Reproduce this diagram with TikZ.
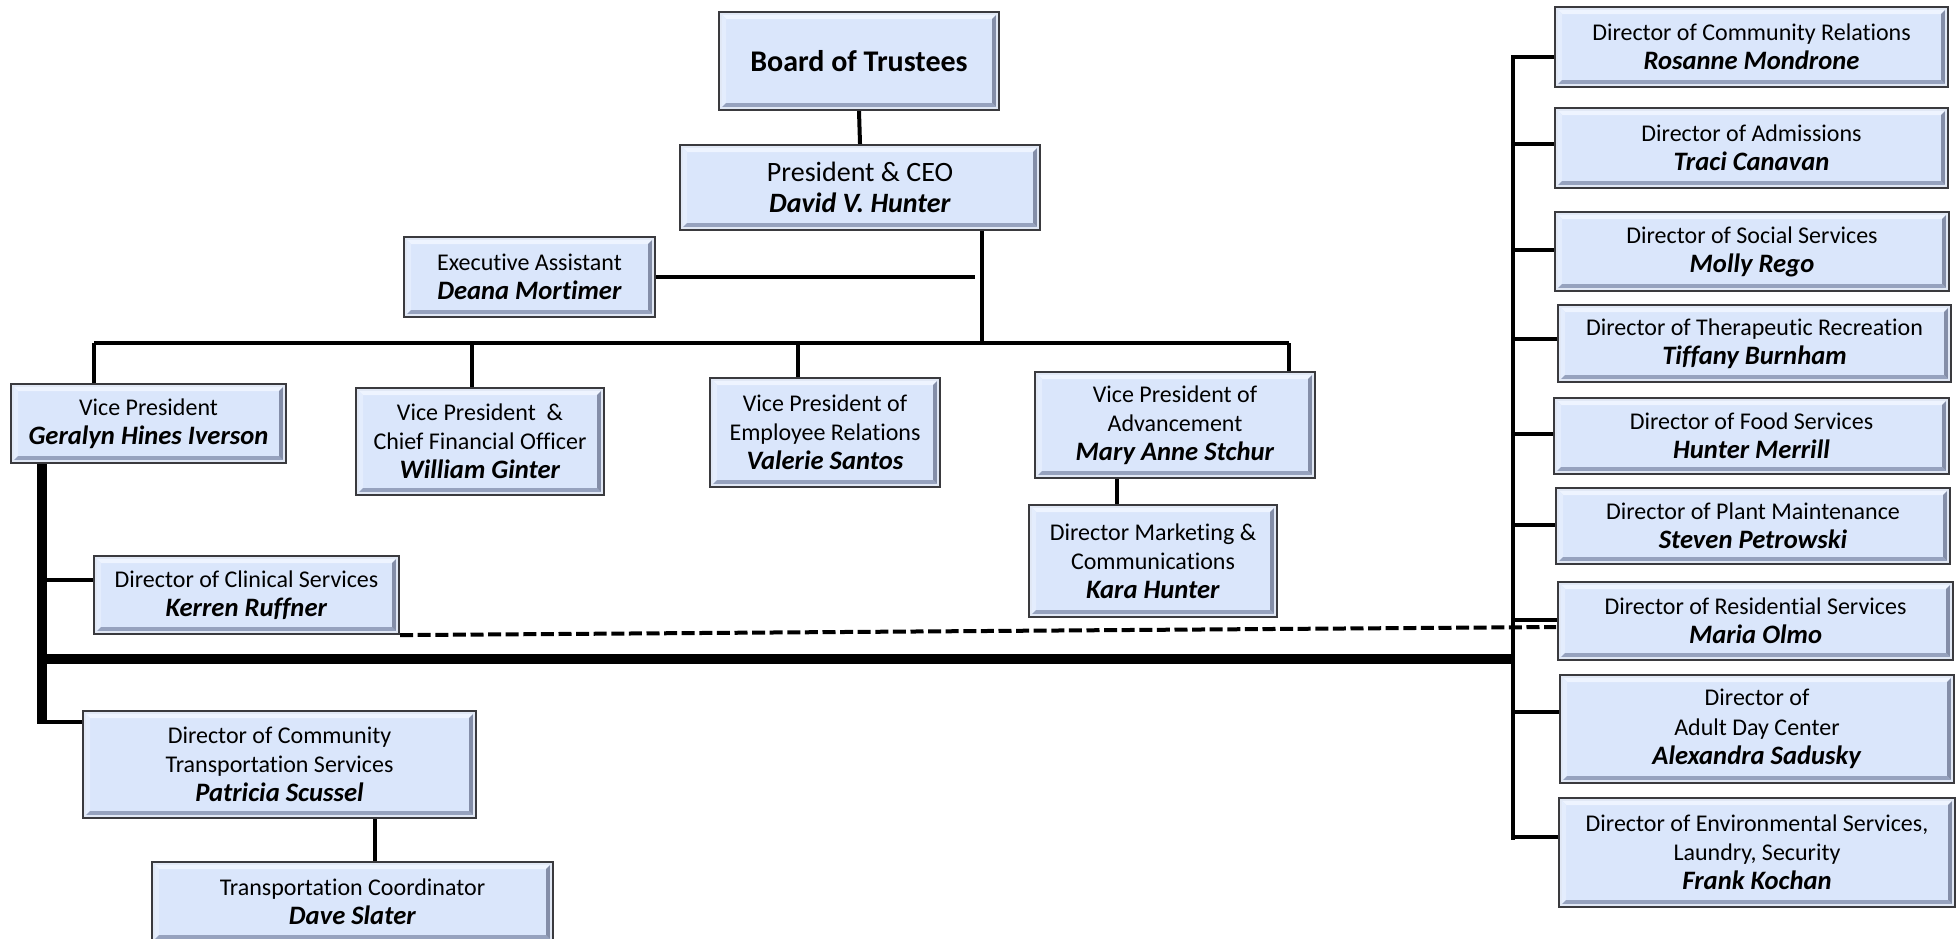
\documentclass[tikz,border=0pt]{standalone}
\usepackage{fontspec}
\setmainfont{Carlito}[Ligatures={NoCommon}]
\usetikzlibrary{calc}
\definecolor{boxface}{RGB}{218,230,251}
\definecolor{boxline}{RGB}{58,58,62}
\definecolor{bevtop}{RGB}{238,244,255}
\definecolor{bevleft}{RGB}{228,237,253}
\definecolor{bevbot}{RGB}{150,162,190}
\definecolor{bevright}{RGB}{132,142,168}
\definecolor{bevhi}{RGB}{225,232,245}
\newcommand\nm[1]{{\fontsize{13.3}{14.6}\selectfont\textbf{\textit{#1}}}}
\newcommand\bevw{3.5pt}
\newcommand\obox[7][]{%
  \pgfmathsetmacro\oboxcx{(#3+#5)/2}%
  \pgfmathsetmacro\oboxcy{(#4+#6)/2}%
  \pgfmathsetmacro\oboxw{(#5-#3)*0.5}%
  \pgfmathsetmacro\oboxh{(#6-#4)*0.5}%
  \node[orgbox,minimum width=\oboxw pt,minimum height=\oboxh pt,#1] (#2) at (\oboxcx,\oboxcy) {#7};}
\tikzset{
  orgbox/.style={draw=boxline, line width=1.1pt, fill=boxface, inner sep=0pt,
    align=center, font=\fontsize{12}{14.6}\selectfont,
    path picture={
      \fill[bevtop] (path picture bounding box.north west) -- (path picture bounding box.north east)
        -- ([shift={(-\bevw,-\bevw)}]path picture bounding box.north east)
        -- ([shift={(\bevw,-\bevw)}]path picture bounding box.north west) -- cycle;
      \fill[bevleft] (path picture bounding box.north west)
        -- ([shift={(\bevw,-\bevw)}]path picture bounding box.north west)
        -- ([shift={(\bevw,\bevw)}]path picture bounding box.south west)
        -- (path picture bounding box.south west) -- cycle;
      \fill[bevbot] (path picture bounding box.south west)
        -- ([shift={(\bevw,\bevw)}]path picture bounding box.south west)
        -- ([shift={(-\bevw,\bevw)}]path picture bounding box.south east)
        -- (path picture bounding box.south east) -- cycle;
      \fill[bevright] (path picture bounding box.south east)
        -- ([shift={(-\bevw,\bevw)}]path picture bounding box.south east)
        -- ([shift={(-\bevw,-\bevw)}]path picture bounding box.north east)
        -- (path picture bounding box.north east) -- cycle;
      \draw[bevhi, line width=0.6pt] ([shift={(1pt,-1pt)}]path picture bounding box.north west)
        rectangle ([shift={(-1pt,1pt)}]path picture bounding box.south east);
    }},
  conn/.style={line width=2pt, black},
  thickconn/.style={line width=4.6pt, black},
  dashconn/.style={line width=2pt, black, dash pattern=on 6.5pt off 2.3pt},
}
\begin{document}
\begin{tikzpicture}[x=0.5pt,y=-0.5pt]
\path[use as bounding box] (0,0) rectangle (1957,938);
\clip (0,0) rectangle (1957,938);
\fill[white] (0,0) rectangle (1957,938);

% coordinates for connector junctions
\coordinate (bt) at (982,343);
\coordinate (ej) at (975,277);
\coordinate (d1) at (94,343);
\coordinate (d2) at (472,343);
\coordinate (d3) at (798,343);
\coordinate (d4) at (1289,343);
\coordinate (mx) at (1117,0);
\coordinate (tvx) at (42,0);
\coordinate (tcorner) at (42,722);
\coordinate (cc) at (42,580);
\coordinate (thL) at (42,659);
\coordinate (thR) at (1513,659);
\coordinate (tx) at (375,0);
\coordinate (dashR) at (1556,627);
\coordinate (rtop) at (1513,57);
\coordinate (rbot) at (1513,838);
\coordinate (r1) at (1513,57);
\coordinate (r2) at (1513,144);
\coordinate (r3) at (1513,250);
\coordinate (r4) at (1513,339);
\coordinate (r5) at (1513,434);
\coordinate (r6) at (1513,525);
\coordinate (r7) at (1513,620);
\coordinate (r8) at (1513,712);
\coordinate (r9) at (1513,837);

% boxes
\obox[font=\fontsize{15}{18}\selectfont\bfseries]{board}{719}{12}{999}{110}{Board of Trustees}
\obox[font=\fontsize{14}{15.5}\selectfont]{pres}{680}{145}{1040}{230}{President \& CEO\\{\fontsize{14}{15.5}\selectfont\textbf{\textit{David V. Hunter}}}}
\obox{exec}{404}{237}{655}{317}{Executive Assistant\\\nm{Deana Mortimer}}
\obox{vp1}{11}{384}{286}{463}{Vice President\\\nm{Geralyn Hines Iverson}}
\obox{vp2}{356}{388}{604}{495}{Vice President\ \ \&\\Chief Financial Officer\\\nm{William Ginter}}
\obox{vp3}{710}{378}{940}{487}{Vice President of\\Employee Relations\\\nm{Valerie Santos}}
\obox{vp4}{1035}{372}{1315}{478}{Vice President of\\Advancement\\\nm{Mary Anne Stchur}}
\obox{mkt}{1029}{505}{1277}{617}{Director Marketing \&\\Communications\\\nm{Kara Hunter}}
\obox{clin}{94}{556}{399}{634}{Director of Clinical Services\\\nm{Kerren Ruffner}}
\obox{trans}{83}{711}{476}{818}{Director of Community\\Transportation Services\\\nm{Patricia Scussel}}
\obox{coord}{152}{862}{553}{942}{Transportation Coordinator\\\nm{Dave Slater}}

\obox{cr}{1555}{7}{1948}{87}{Director of Community Relations\\\nm{Rosanne Mondrone}}
\obox{adm}{1555}{108}{1948}{188}{Director of Admissions\\\nm{Traci Canavan}}
\obox{soc}{1555}{212}{1949}{291}{Director of Social Services\\\nm{Molly Rego}}
\obox{ther}{1558}{305}{1951}{382}{Director of Therapeutic Recreation\\\nm{Tiffany Burnham}}
\obox{food}{1554}{398}{1949}{474}{Director of Food Services\\\nm{Hunter Merrill}}
\obox{plant}{1556}{488}{1950}{564}{Director of Plant Maintenance\\\nm{Steven Petrowski}}
\obox{res}{1558}{582}{1953}{660}{Director of Residential Services\\\nm{Maria Olmo}}
\obox{adult}{1560}{675}{1954}{783}{Director of\\Adult Day Center\\\nm{Alexandra Sadusky}}
\obox{env}{1559}{798}{1955}{907}{Director of Environmental Services,\\Laundry, Security\\\nm{Frank Kochan}}

% top connectors
\draw[conn] (board.south) -- (pres.north);
\draw[conn] (pres.south -| bt) -- (bt);
\draw[conn] (exec.east) -- (ej);
\draw[conn] (d1) -- (d4);
\draw[conn] (d1) -- (d1 |- vp1.north);
\draw[conn] (d2) -- (d2 |- vp2.north);
\draw[conn] (d3) -- (d3 |- vp3.north);
\draw[conn] (d4) -- (d4 |- vp4.north);
\draw[conn] (vp4.south -| mx) -- (mkt.north -| mx);

% left branch
\draw[thickconn] (vp1.south -| tvx) -- ([yshift=-1pt]tcorner);
\draw[conn] (tcorner) -- (tcorner -| trans.west);
\draw[conn] (cc) -- (cc -| clin.west);
\draw[line width=5pt] (thL) -- (thR);
\draw[conn] (trans.south -| tx) -- (coord.north -| tx);
\draw[dashconn] (clin.south east) -- (dashR);

% right spine
\draw[conn] ([yshift=1pt]rtop) -- ([yshift=-1pt]rbot);
\foreach \r/\b in {r1/cr,r2/adm,r3/soc,r4/ther,r5/food,r6/plant,r7/res,r8/adult,r9/env}{
  \draw[conn] (\r) -- (\r -| \b.west);
}
\end{tikzpicture}
\end{document}
